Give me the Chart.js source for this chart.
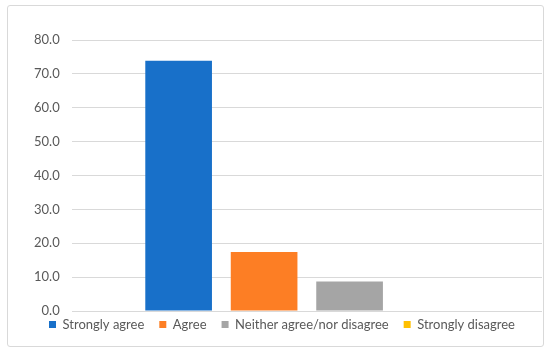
<!DOCTYPE html>
<html>
<head>
<meta charset="utf-8">
<script src="https://cdn.jsdelivr.net/npm/chart.js@4"></script>
<style>
  html, body { margin: 0; padding: 0; background: #fff; }
  #frame {
    position: absolute; left: 7px; top: 5px; width: 535px; height: 340px;
    border: 1px solid #d9d9d9; border-radius: 3px;
  }
  #wrap { position: absolute; left: 0; top: 0; width: 550px; height: 353px; }
</style>
</head>
<body>
<div id="frame"></div>
<div id="wrap"><canvas id="canvas" width="550" height="353"></canvas></div>
<script>
// Responses (%)
const seriesNames = ['Strongly agree', 'Agree', 'Neither agree/nor disagree', 'Strongly disagree'];
const seriesValues = [73.9, 17.4, 8.7, 0];
const seriesColors = ['#1870c9', '#fd7e24', '#a5a5a5', '#ffc000'];
const yTicks = [0, 10, 20, 30, 40, 50, 60, 70, 80];

Chart.defaults.font.family = 'Lato, "Open Sans", sans-serif';
Chart.defaults.font.size = 13;
Chart.defaults.color = '#595959';

// keep wide gaps between legend items but a tight legend row under the plot
const tightLegend = {
  id: 'tightLegend',
  afterInit(chart) {
    const lg = chart.legend;
    const fit = lg.fit, draw = lg.draw;
    lg.fit = function () { fit.call(this); this.height -= 11; };
    lg.draw = function () { this.top -= 8; draw.call(this); this.top += 8; };
  }
};

new Chart(document.getElementById('canvas').getContext('2d'), {
  type: 'bar',
  data: {
    labels: [''],
    datasets: seriesNames.map((name, i) => ({
      label: name,
      data: [seriesValues[i]],
      backgroundColor: seriesColors[i],
      barPercentage: 0.78,
      categoryPercentage: 0.727
    }))
  },
  options: {
    responsive: false,
    animation: false,
    layout: { padding: { top: 40, right: 8, left: 22, bottom: 15 } },
    plugins: {
      tooltip: { enabled: false },
      legend: {
        position: 'bottom',
        labels: { boxWidth: 7, boxHeight: 7, padding: 15, color: '#595959' }
      }
    },
    scales: {
      x: { display: false },
      y: {
        min: 0, max: 80,
        afterBuildTicks: axis => { axis.ticks = yTicks.map(v => ({ value: v })); },
        grid: { color: '#d9d9d9', drawTicks: false },
        border: { display: false },
        ticks: { padding: 12, callback: v => v.toFixed(1) }
      }
    }
  },
  plugins: [tightLegend]
});
</script>
</body>
</html>
